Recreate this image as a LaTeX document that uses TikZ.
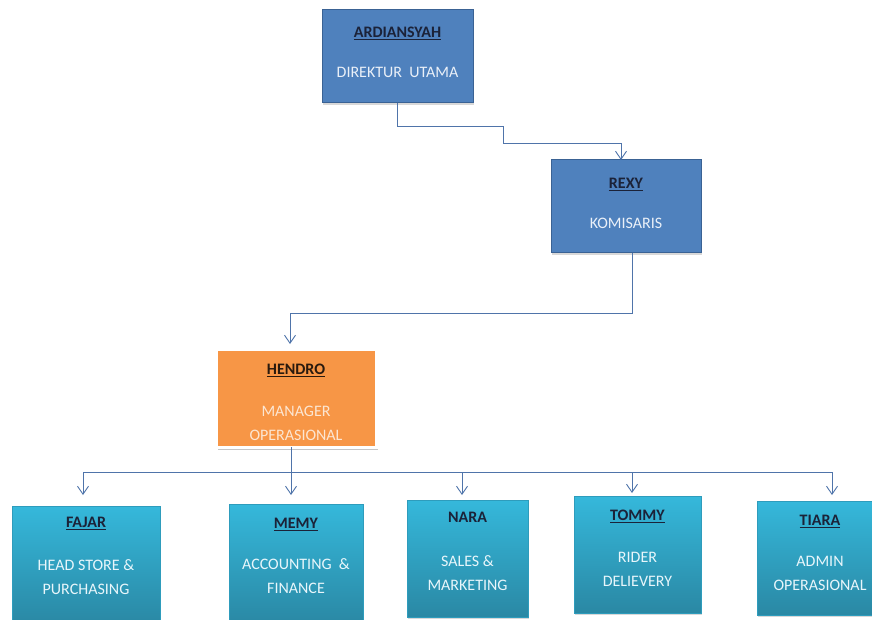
\documentclass[tikz,border=0pt]{standalone}
\usepackage{fontspec}
\setmainfont{Carlito}
\usetikzlibrary{arrows.meta,shadows,calc}
\definecolor{boxblue}{HTML}{4F81BD}
\definecolor{boxblueborder}{HTML}{3A6294}
\definecolor{boxorange}{HTML}{F79646}
\definecolor{cyantop}{HTML}{35B8DB}
\definecolor{cyanbot}{HTML}{2A88A4}
\definecolor{cyanborder}{HTML}{2E9CBC}
\definecolor{titledark}{HTML}{1B2238}
\definecolor{titlebrown}{HTML}{2A1A0E}
\definecolor{subblue}{HTML}{EAF0F8}
\definecolor{subcyan}{HTML}{E8F6FB}
\definecolor{suborange}{HTML}{FCE6D2}
\definecolor{connc}{HTML}{4F74AA}
\newcommand{\ttl}[2]{\textcolor{#1}{\underline{\textbf{#2}}}}
\newcommand{\ttlnu}[2]{\textcolor{#1}{\textbf{#2}}}
\tikzset{
  box/.style={rectangle, inner sep=0pt, outer sep=0pt},
  shad/.style={drop shadow={shadow xshift=1.2pt, shadow yshift=-2pt, opacity=0.3}},
  bluebox/.style={box, shad, fill=boxblue, draw=boxblueborder, line width=1pt},
  orangebox/.style={box, drop shadow={shadow xshift=1.5pt, shadow yshift=-2.5pt, opacity=0.45, fill=gray}, fill=boxorange, draw=white, line width=3pt},
  cyanbox/.style={box, shad, top color=cyantop, bottom color=cyanbot, draw=cyanborder, line width=0.5pt},
  lbl/.style={inner sep=0pt, outer sep=0pt, align=center, anchor=north, font=\fontsize{16}{24}\selectfont},
  conn/.style={draw=connc, line width=0.9pt},
  arr/.style={conn, -{Straight Barb[length=8pt,width=11pt,line width=0.9pt]}},
}
\begin{document}
\begin{tikzpicture}[x=1pt,y=-1pt]
\fill[white] (0,0) rectangle (872,620);
\useasboundingbox (0,0) rectangle (872,620);

% boxes
\node[bluebox, minimum width=151pt, minimum height=93pt] (ard) at (397.5,56.5) {};
\node[bluebox, minimum width=150pt, minimum height=93pt] (rexy) at (626,206.5) {};
\node[orangebox, minimum width=160pt, minimum height=98pt] (hendro) at (296,398) {};
\node[cyanbox, minimum width=148pt, minimum height=118pt] (fajar) at (86,565) {};
\node[cyanbox, minimum width=134pt, minimum height=120pt] (memy) at (296,564) {};
\node[cyanbox, minimum width=121pt, minimum height=117pt] (nara) at (467.5,558.5) {};
\node[cyanbox, minimum width=127pt, minimum height=117pt] (tommy) at (637.5,554.5) {};
\node[cyanbox, minimum width=128pt, minimum height=114pt] (tiara) at (821,558) {};

% texts
\node[lbl, text=subblue] (ardT) at (397.5,27) {\ttl{titledark}{ARDIANSYAH}\\[16pt]DIREKTUR\ \ UTAMA};
\node[lbl, text=subblue] (rexyT) at (626,178) {\ttl{titledark}{REXY}\\[16pt]KOMISARIS};
\node[lbl, text=suborange] (hendroT) at (296,364) {\ttl{titlebrown}{HENDRO}\\[18pt]MANAGER\\OPERASIONAL};
\node[lbl, text=subcyan] (fajarT) at (86,517) {\ttl{titledark}{FAJAR}\\[19pt]HEAD STORE \&\\PURCHASING};
\node[lbl, text=subcyan] (memyT) at (296,518) {\ttl{titledark}{MEMY}\\[17pt]ACCOUNTING \ \&\\FINANCE};
\node[lbl, text=subcyan] (naraT) at (467.5,512) {\ttlnu{titledark}{NARA}\\[20pt]SALES \&\\MARKETING};
\node[lbl, text=subcyan] (tommyT) at (637.5,510) {\ttl{titledark}{TOMMY}\\[18pt]RIDER\\DELIEVERY};
\node[lbl, text=subcyan] (tiaraT) at (820,515) {\ttl{titledark}{TIARA}\\[17pt]ADMIN\\OPERASIONAL};

% connectors
\coordinate (j1) at (503,126);
\coordinate (j2) at (621,143);
\draw[arr] (ard.south) |- (j1) |- (j2) -- (j2 |- rexy.north);

\coordinate (j3) at (632,313);
\coordinate (j4) at (290,313);
\draw[arr, shorten >=5pt] (j3 |- rexy.south) -- (j3) -- (j4) -- (j4 |- hendro.north);

\coordinate (b1) at (83,472);
\coordinate (b2) at (291,472);
\coordinate (b3) at (462,472);
\coordinate (b4) at (632,472);
\coordinate (b5) at (832,472);
\draw[conn] (b2 |- hendro.south) -- (b2);
\draw[conn] (b1) -- (b5);
\draw[arr, shorten >=11pt] (b1) -- (b1 |- fajar.north);
\draw[arr, shorten >=9pt] (b2) -- (b2 |- memy.north);
\draw[arr, shorten >=5pt] (b3) -- (b3 |- nara.north);
\draw[arr, shorten >=3pt] (b4) -- (b4 |- tommy.north);
\draw[arr, shorten >=6pt] (b5) -- (b5 |- tiara.north);
\end{tikzpicture}
\end{document}
